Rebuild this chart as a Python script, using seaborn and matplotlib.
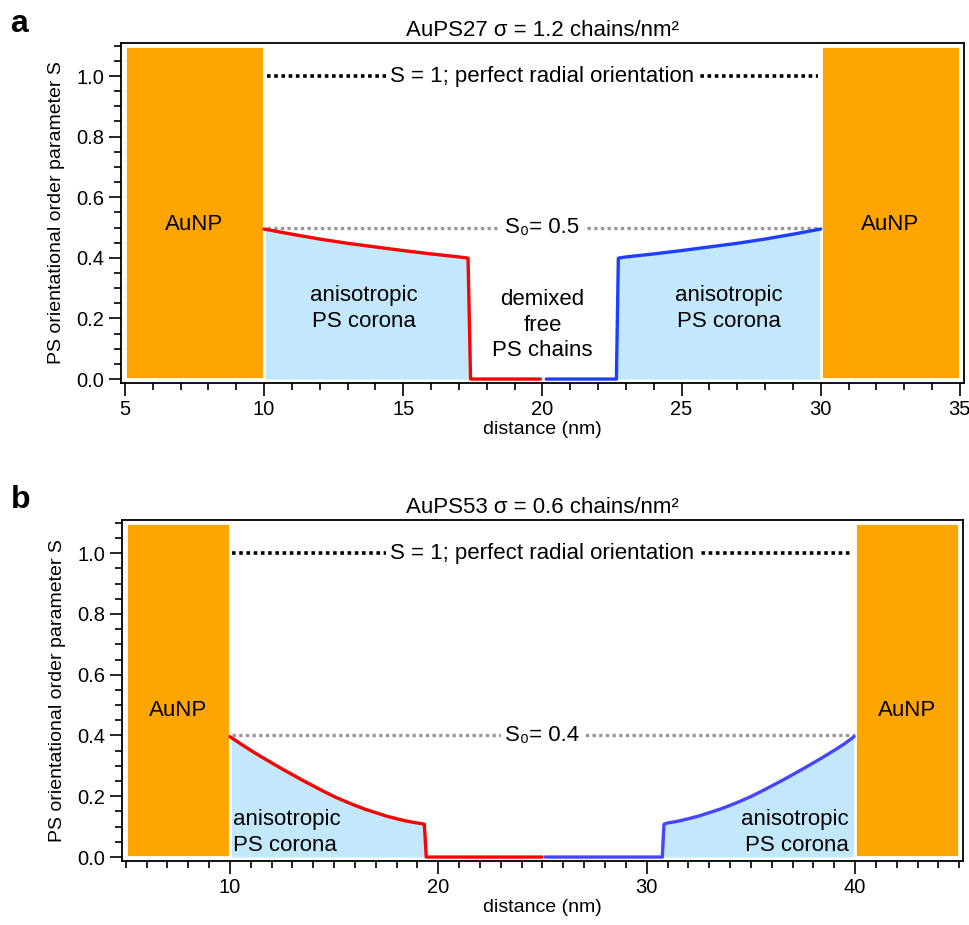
import numpy as np
import matplotlib
matplotlib.use("Agg")
import matplotlib.pyplot as plt
import seaborn as sns
from matplotlib.ticker import MultipleLocator

# Data

# panel a: AuPS27
a_red_x = [10, 11, 12, 13, 14, 15, 16, 17, 17.33, 17.42, 19.93]
a_red_y = [0.495, 0.478, 0.462, 0.448, 0.436, 0.424, 0.413, 0.403, 0.399, 0.0, 0.0]
a_blue_x = [20.14, 22.66, 22.73, 23, 24, 25, 26, 27, 28, 29, 30]
a_blue_y = [0.0, 0.0, 0.399, 0.403, 0.413, 0.424, 0.436, 0.448, 0.462, 0.478, 0.495]

# panel b: AuPS53
b_red_x = [10, 10.5, 11, 11.5, 12, 12.5, 13, 13.5, 14, 14.5, 15, 15.5, 16, 16.5,
           17, 17.5, 18, 18.5, 19, 19.33, 19.42, 24.97]
b_red_y = [0.396, 0.373, 0.351, 0.330, 0.310, 0.290, 0.271, 0.252, 0.234, 0.216,
           0.199, 0.184, 0.170, 0.157, 0.146, 0.135, 0.126, 0.118, 0.112, 0.108, 0.0, 0.0]
b_blue_x = [25.13, 30.75, 30.83, 31, 31.5, 32, 32.5, 33, 33.5, 34, 34.5, 35, 35.5,
            36, 36.5, 37, 37.5, 38, 38.5, 39, 39.5, 39.95]
b_blue_y = [0.0, 0.0, 0.108, 0.112, 0.118, 0.126, 0.135, 0.146, 0.157, 0.170, 0.184,
            0.199, 0.216, 0.234, 0.252, 0.271, 0.290, 0.310, 0.330, 0.351, 0.373, 0.396]

# gold nanoparticle walls (left edge, right edge)
a_au = [(5, 10), (30, 35)]
b_au = [(5, 10), (40, 45)]
au_top = 1.1

a_s0 = 0.5
b_s0 = 0.4
a_title = "AuPS27 σ = 1.2 chains/nm²"
b_title = "AuPS53 σ = 0.6 chains/nm²"

# Style
sns.set_theme(style="ticks")
plt.rcParams['font.family'] = ['Liberation Sans', 'DejaVu Sans']
plt.rcParams['text.color'] = 'black'
plt.rcParams['axes.labelcolor'] = 'black'
plt.rcParams['xtick.color'] = 'black'
plt.rcParams['ytick.color'] = 'black'

ORANGE = "#ffa500"
LIGHTBLUE = "#c4e8fb"
RED = "#ff0000"

fig = plt.figure(figsize=(9.69, 9.25), dpi=100)
ax_a = fig.add_axes([121 / 969, 1 - 383 / 925, 843 / 969, 340 / 925])
ax_b = fig.add_axes([122 / 969, 1 - 861 / 925, 841 / 969, 341 / 925])


def draw_panel(ax, red_x, red_y, blue_x, blue_y, blue_col, walls, s0, title, xlim, xmajor):
    # walls
    for left, right in walls:
        ax.bar((left + right) / 2, au_top, width=right - left, bottom=0,
               color=ORANGE, edgecolor="white", linewidth=2, zorder=2)
    # corona fill
    ax.fill_between(red_x, red_y, 0, color=LIGHTBLUE, linewidth=0, zorder=1)
    ax.fill_between(blue_x, blue_y, 0, color=LIGHTBLUE, linewidth=0, zorder=1)

    sns.lineplot(x=red_x, y=red_y, ax=ax, color=RED, linewidth=2.4,
                 sort=False, estimator=None, zorder=4)
    sns.lineplot(x=blue_x, y=blue_y, ax=ax, color=blue_col, linewidth=2.4,
                 sort=False, estimator=None, zorder=4)

    inner_l = walls[0][1]
    inner_r = walls[1][0]
    mid = (inner_l + inner_r) / 2
    ax.plot([inner_l + 0.1, inner_r - 0.1], [1, 1], color="black", linestyle=(0, (1, 1)),
            linewidth=2.6, zorder=3)
    ax.plot([inner_l + 0.1, inner_r], [s0, s0], color="#999999", linestyle=(0, (1, 1)),
            linewidth=2.4, zorder=3)
    box = dict(facecolor="white", edgecolor="none", pad=3)
    ax.text(mid, 1.0, "S = 1; perfect radial orientation", ha="center", va="center",
            fontsize=16, bbox=box, zorder=5)
    ax.text(mid, s0, "S₀= " + str(s0), ha="center", va="center",
            fontsize=16, bbox=box, zorder=5)

    ax.set_xlim(*xlim)
    ax.set_ylim(-0.013, 1.109)
    ax.xaxis.set_major_locator(MultipleLocator(xmajor))
    ax.xaxis.set_minor_locator(MultipleLocator(1))
    ax.yaxis.set_major_locator(MultipleLocator(0.2))
    ax.yaxis.set_minor_locator(MultipleLocator(0.05))
    ax.yaxis.set_major_formatter(plt.FormatStrFormatter("%.1f"))
    ax.tick_params(which="major", direction="out", length=9, width=1.2,
                   labelsize=14.5, color="black", pad=3)
    ax.tick_params(which="minor", direction="out", length=5, width=1.2, color="black")
    ax.tick_params(top=False, right=False)
    for sp in ax.spines.values():
        sp.set_visible(True)
        sp.set_color("black")
        sp.set_linewidth(1.3)
    ax.set_xlabel("distance (nm)", fontsize=14, labelpad=2)
    ax.set_ylabel("PS orientational order parameter S", fontsize=14, labelpad=8)
    ax.set_title(title, fontsize=16, pad=5)


draw_panel(ax_a, a_red_x, a_red_y, a_blue_x, a_blue_y, "#1f3fff",
           a_au, a_s0, a_title, (4.86, 35.15), 5)
draw_panel(ax_b, b_red_x, b_red_y, b_blue_x, b_blue_y, "#4646ff",
           b_au, b_s0, b_title, (4.82, 45.18), 10)

# labels in panel a
ax_a.text(7.5, 0.51, "AuNP", ha="center", va="center", fontsize=16, zorder=5)
ax_a.text(32.5, 0.51, "AuNP", ha="center", va="center", fontsize=16, zorder=5)
ax_a.text(13.6, 0.234, "anisotropic\nPS corona", ha="center", va="center",
          fontsize=16, linespacing=1.3, zorder=5)
ax_a.text(26.7, 0.234, "anisotropic\nPS corona", ha="center", va="center",
          fontsize=16, linespacing=1.3, zorder=5)
ax_a.text(20, 0.178, "demixed\nfree\nPS chains", ha="center", va="center",
          fontsize=16, linespacing=1.3, zorder=5)

# labels in panel b
ax_b.text(7.5, 0.483, "AuNP", ha="center", va="center", fontsize=16, zorder=5)
ax_b.text(42.5, 0.483, "AuNP", ha="center", va="center", fontsize=16, zorder=5)
ax_b.text(10.15, 0.08, "anisotropic\nPS corona", ha="left", va="center",
          fontsize=16, linespacing=1.3, zorder=5)
ax_b.text(39.7, 0.08, "anisotropic\nPS corona", ha="right", va="center",
          fontsize=16, linespacing=1.3, zorder=5)

# panel letters
fig.text(19 / 969, 1 - 24 / 925, "a", fontsize=23, fontweight="bold", ha="center", va="center")
fig.text(21 / 969, 1 - 500 / 925, "b", fontsize=23, fontweight="bold", ha="center", va="center")

fig.savefig("out.png", dpi=100)
